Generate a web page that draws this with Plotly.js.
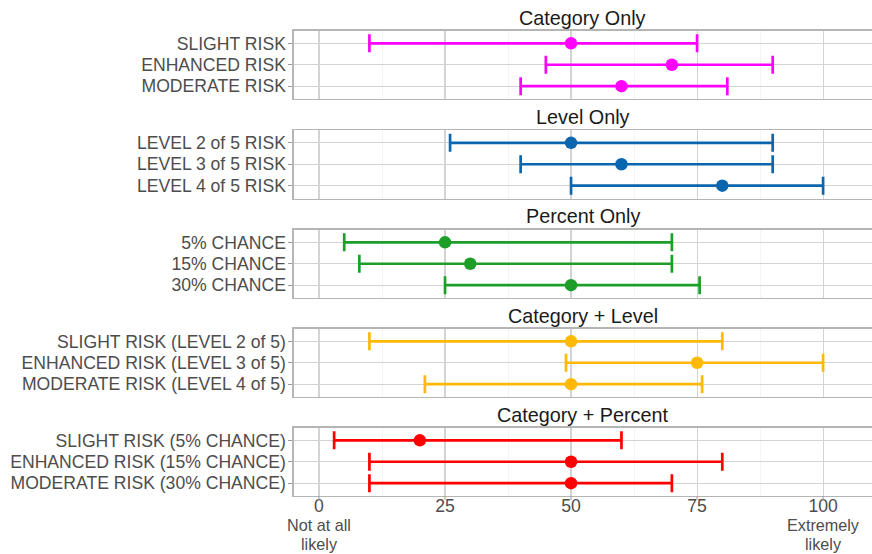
<!DOCTYPE html>
<html>
<head>
<meta charset="utf-8">
<script src="https://cdn.plot.ly/plotly-3.0.1.min.js"></script>
<style>html,body{margin:0;padding:0;background:#fff;}#chart{width:872px;height:554px;}</style>
</head>
<body>
<div id="chart"></div>
<script>
// ---- data ----
const panelTitles = ["Category Only", "Level Only", "Percent Only", "Category + Level", "Category + Percent"];
const cats1 = ["SLIGHT RISK", "ENHANCED RISK", "MODERATE RISK"];
const cats2 = ["LEVEL 2 of 5 RISK", "LEVEL 3 of 5 RISK", "LEVEL 4 of 5 RISK"];
const cats3 = ["5% CHANCE", "15% CHANCE", "30% CHANCE"];
const cats4 = ["SLIGHT RISK (LEVEL 2 of 5)", "ENHANCED RISK (LEVEL 3 of 5)", "MODERATE RISK (LEVEL 4 of 5)"];
const cats5 = ["SLIGHT RISK (5% CHANCE)", "ENHANCED RISK (15% CHANCE)", "MODERATE RISK (30% CHANCE)"];

const mid1 = [50, 70, 60];   const low1 = [10, 45, 40];   const high1 = [75, 90, 81];
const mid2 = [50, 60, 80];   const low2 = [26, 40, 50];   const high2 = [90, 90, 100];
const mid3 = [25, 30, 50];   const low3 = [5, 8, 25];     const high3 = [70, 70, 75.5];
const mid4 = [50, 75, 50];   const low4 = [10, 49, 21];   const high4 = [80, 100, 76];
const mid5 = [20, 50, 50];   const low5 = [3, 10, 10];    const high5 = [60, 80, 70];

const colors = ["#FF00FF", "#0A66AF", "#1D9E29", "#FFB905", "#FF0000"];
const xTickVals = [0, 25, 50, 75, 100];
const xTickText = ["0", "25", "50", "75", "100"];
const endLabelVals = [0, 100];
const endLabelLine1 = ["Not at all", "Extremely"];
const endLabelLine2 = ["likely", "likely"];

// ---- build ----
const cats = [cats1, cats2, cats3, cats4, cats5];
const mids = [mid1, mid2, mid3, mid4, mid5];
const lows = [low1, low2, low3, low4, low5];
const highs = [high1, high2, high3, high4, high5];

const W = 872, Htot = 554, B = 58;
const H = Htot - B;
const panelTops = [30.5, 130, 229.5, 328.5, 427.5];
const panelH = 68.5;
const x0 = 293.6 / W;
const gridCol = "#D3D3D3", minorCol = "#EDEDED", borderCol = "#B5B5B5";
const font = "Liberation Sans, Arial, sans-serif";
const tickFont = {family: font, size: 17.6, color: "#4D4D4D"};
const endFont = {family: font, size: 16.2, color: "#4D4D4D"};

const traces = [];
const layout = {
  width: W, height: Htot,
  margin: {l: 0, r: 0, t: 0, b: B, pad: 0},
  paper_bgcolor: "#fff", plot_bgcolor: "#fff",
  showlegend: false,
  font: {family: font, size: 17.6, color: "#4D4D4D"},
  annotations: [],
  shapes: []
};

for (let i = 0; i < 5; i++) {
  const n = i === 0 ? "" : String(i + 1);
  const plus = mids[i].map((m, k) => highs[i][k] - m);
  const minus = mids[i].map((m, k) => m - lows[i][k]);
  traces.push({
    type: "scatter", mode: "markers",
    x: mids[i], y: cats[i],
    xaxis: "x" + n, yaxis: "y" + n,
    marker: {color: colors[i], size: 12.5},
    error_x: {type: "data", symmetric: false, array: plus, arrayminus: minus,
              color: colors[i], thickness: 2.7, width: 9},
    hoverinfo: "x+y"
  });
  const top = panelTops[i], bot = top + panelH;
  const dom = [(H - bot) / H, (H - top) / H];
  const last = i === 4;
  layout["xaxis" + n] = {
    domain: [x0, 1], anchor: "y" + n,
    range: [-5.04, 109.7],
    tickmode: "array", tickvals: xTickVals, ticktext: xTickText,
    showticklabels: last,
    ticks: "",
    ticklabelstandoff: -6,
    tickfont: tickFont,
    showgrid: true, gridcolor: gridCol, gridwidth: 1.1,
    minor: {tickmode: "array", tickvals: [12.5, 37.5, 62.5, 87.5], showgrid: true, gridcolor: minorCol, gridwidth: 0.6, ticks: ""},
    zeroline: false,
    showline: true, mirror: true, linecolor: borderCol, linewidth: 1.2,
    fixedrange: true
  };
  layout["yaxis" + n] = {
    domain: dom, anchor: "x" + n,
    type: "category", categoryorder: "array", categoryarray: cats[i],
    range: [2.6, -0.6],
    ticks: "outside", ticklen: 4, tickcolor: "#999", tickwidth: 1,
    ticklabelstandoff: -1,
    tickfont: tickFont,
    showgrid: true, gridcolor: gridCol, gridwidth: 1.1,
    zeroline: false,
    showline: true, mirror: false, linecolor: borderCol, linewidth: 1.2,
    fixedrange: true
  };
  layout.annotations.push({
    text: panelTitles[i], xref: "paper", yref: "paper",
    x: (x0 + 1) / 2, y: dom[1], xanchor: "center", yanchor: "bottom",
    yshift: 0, showarrow: false,
    font: {family: font, size: 19.8, color: "#1A1A1A"}
  });
}

// small tick marks under the bottom panel, at the x tick values
for (const v of xTickVals) {
  layout.shapes.push({
    type: "line", xref: "x5", yref: "paper",
    x0: v, x1: v, y0: 0, y1: -4 / H,
    line: {color: "#999", width: 1}
  });
}

// end labels of the x axis, one text per line
for (let k = 0; k < endLabelVals.length; k++) {
  layout.annotations.push({
    text: endLabelLine1[k], xref: "x5", yref: "paper",
    x: endLabelVals[k], y: (H - 525) / H, xanchor: "center", yanchor: "middle",
    showarrow: false, font: endFont, borderpad: 0
  });
  layout.annotations.push({
    text: endLabelLine2[k], xref: "x5", yref: "paper",
    x: endLabelVals[k], y: (H - 544) / H, xanchor: "center", yanchor: "middle",
    showarrow: false, font: endFont, borderpad: 0
  });
}

Plotly.newPlot("chart", traces, layout, {displayModeBar: false, staticPlot: true});
</script>
</body>
</html>
